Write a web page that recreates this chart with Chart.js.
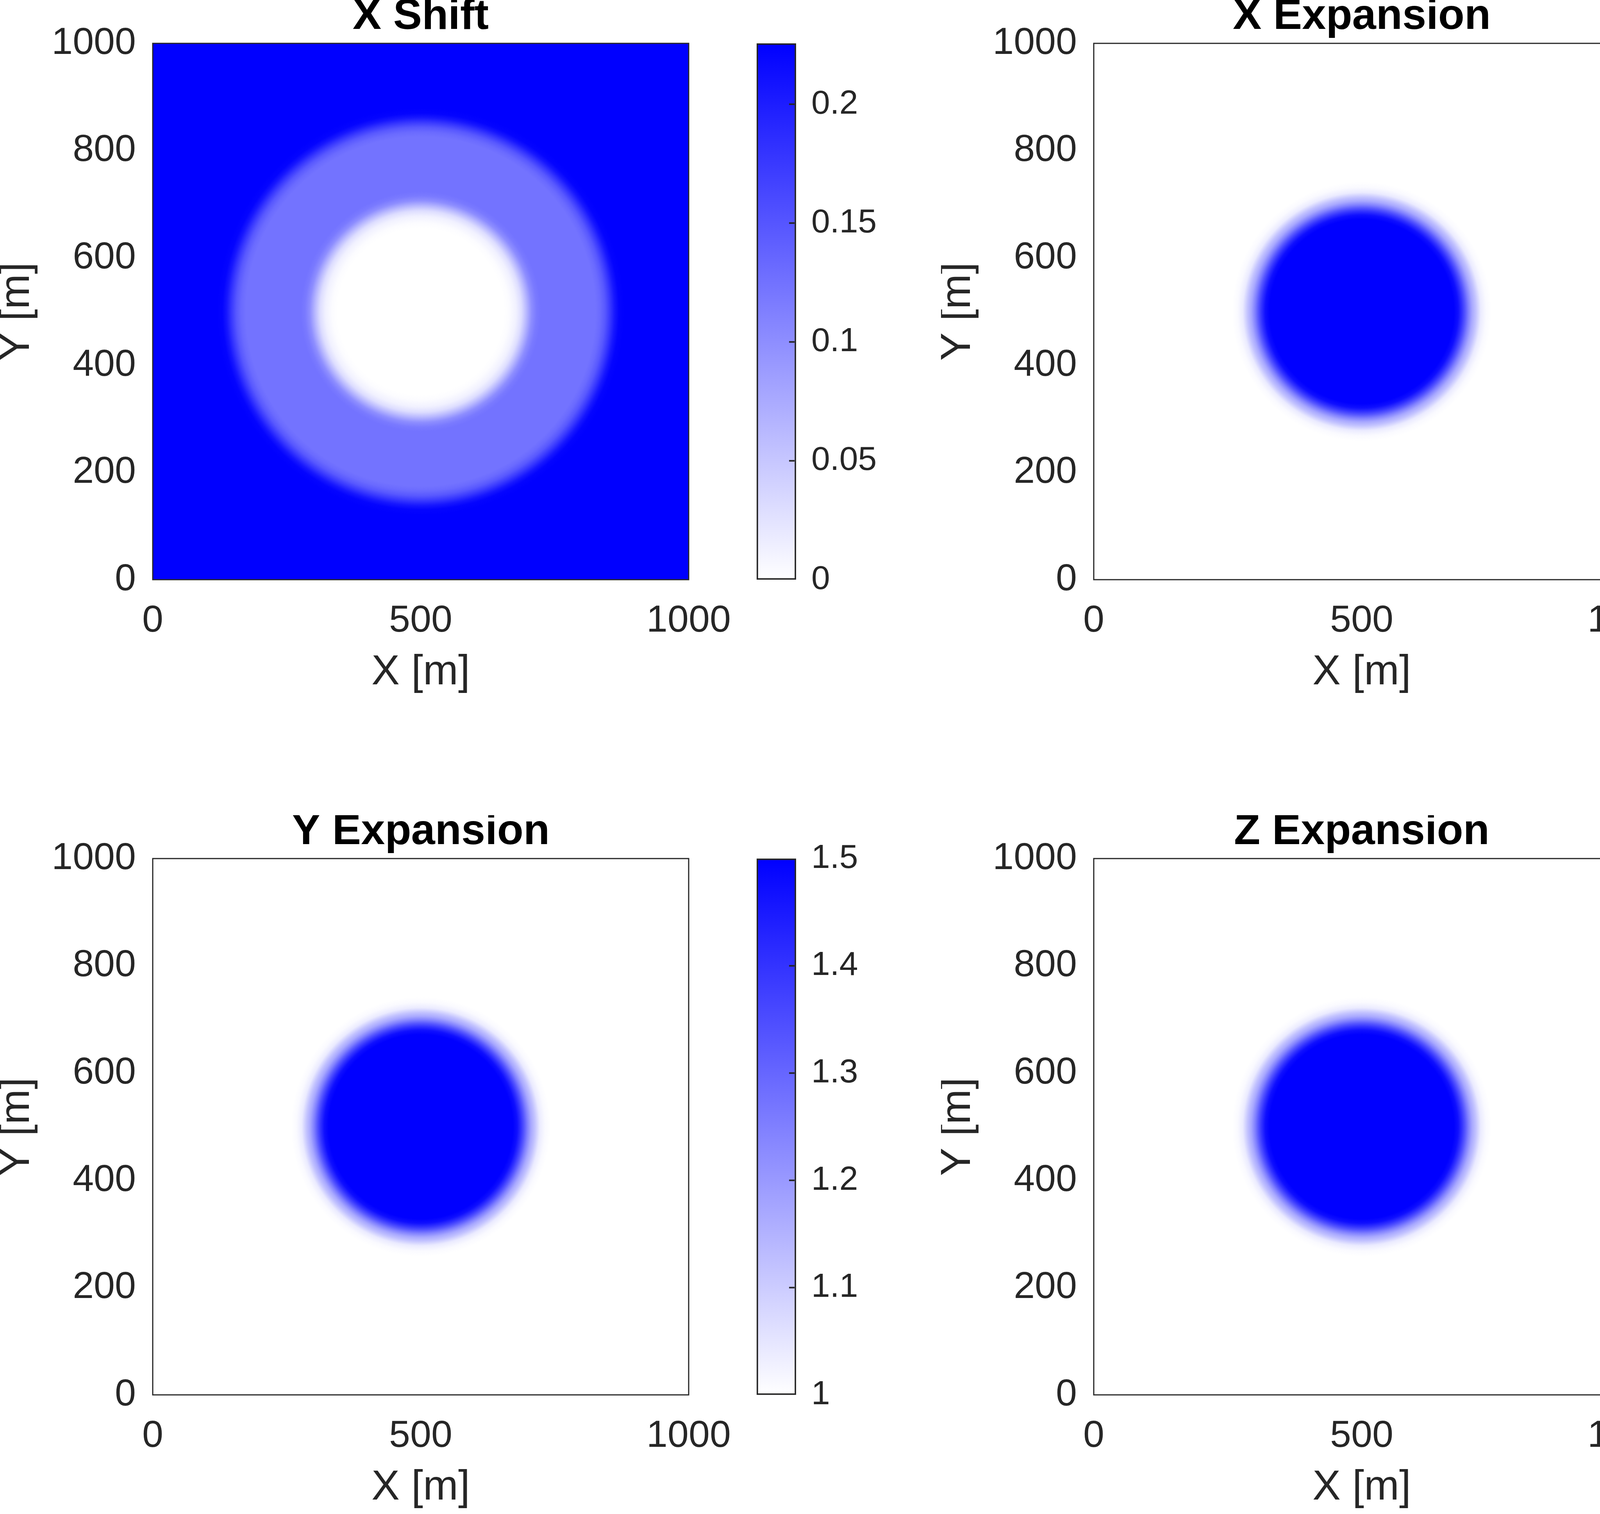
<!DOCTYPE html>
<html>
<head>
<meta charset="utf-8">
<script src="https://cdn.jsdelivr.net/npm/chart.js@4.4.1/dist/chart.umd.min.js"></script>
<style>
html, body { margin: 0; padding: 0; background: #fff; width: 4607px; height: 3876px; overflow: hidden; }
.box { position: absolute; }
</style>
</head>
<body>
<div class="box" style="left:0px;top:0px;width:1933px;height:1804px"><canvas id="shiftX"></canvas></div>
<div class="box" style="left:1937px;top:11px;width:321px;height:1573px"><canvas id="shiftXBar"></canvas></div>
<div class="box" style="left:2409px;top:0px;width:1933px;height:1804px"><canvas id="expX"></canvas></div>
<div class="box" style="left:4347px;top:11px;width:321px;height:1573px"><canvas id="expXBar"></canvas></div>
<div class="box" style="left:0px;top:2087px;width:1933px;height:1804px"><canvas id="expY"></canvas></div>
<div class="box" style="left:1937px;top:2098px;width:321px;height:1573px"><canvas id="expYBar"></canvas></div>
<div class="box" style="left:2409px;top:2087px;width:1933px;height:1804px"><canvas id="expZ"></canvas></div>
<div class="box" style="left:4347px;top:2098px;width:321px;height:1573px"><canvas id="expZBar"></canvas></div>
<script>
// axis ticks
const xTicks = [0, 500, 1000];
const yTicks = [0, 200, 400, 600, 800, 1000];
const centre = [500, 500];

// radial profiles (distance from centre in m -> value)
const shiftRadius = [0, 155, 165, 178, 188, 197, 207, 216, 224, 326, 335, 344, 353, 362, 370, 380];
const shiftValue = [0, 0, 0.003, 0.012, 0.03, 0.062, 0.1, 0.118, 0.124, 0.124, 0.132, 0.148, 0.175, 0.205, 0.222, 0.2256];

const expRadius = [0, 172, 180, 187, 193, 199, 206, 213, 222, 232, 242];
const expXValue = [1.5, 1.5, 1.47, 1.4, 1.33, 1.25, 1.17, 1.12, 1.04, 1.01, 1];
const expYValue = [1.5, 1.5, 1.47, 1.4, 1.33, 1.25, 1.17, 1.12, 1.04, 1.01, 1];
const expZValue = [1.5, 1.5, 1.47, 1.4, 1.33, 1.25, 1.17, 1.12, 1.04, 1.01, 1];

// colour limits and colorbar ticks
const shiftLimits = [0, 0.2256];
const shiftBarTicks = [0, 0.05, 0.1, 0.15, 0.2];
const expLimits = [1, 1.5];
const expBarTicks = [1, 1.1, 1.2, 1.3, 1.4, 1.5];

const FONT = "'Liberation Sans', Arial, sans-serif";
const INK = '#262626';
const REACH = 750; // field is painted out past the plot corners

function shade(v, lim) {
    const t = Math.min(1, Math.max(0, (v - lim[0]) / (lim[1] - lim[0])));
    const c = Math.round(255 * (1 - t));
    return 'rgb(' + c + ',' + c + ',255)';
}

// paints the radial field under the axes, positioned with the chart scales
const fieldPlugin = {
    id: 'field',
    beforeDatasetsDraw(chart, args, opts) {
        const a = chart.chartArea;
        const c = chart.ctx;
        const sx = chart.scales.x;
        const sy = chart.scales.y;
        const px = sx.getPixelForValue(centre[0]);
        const py = sy.getPixelForValue(centre[1]);
        const rr = sx.getPixelForValue(centre[0] + REACH) - px;
        const g = c.createRadialGradient(px, py, 0, px, py, rr);
        opts.radius.forEach((r, i) => g.addColorStop(r / REACH, shade(opts.value[i], opts.limits)));
        c.save();
        c.fillStyle = g;
        c.fillRect(a.left, a.top, a.right - a.left, a.bottom - a.top);
        c.restore();
    }
};

const framePlugin = {
    id: 'frame',
    afterDatasetsDraw(chart) {
        const a = chart.chartArea;
        const c = chart.ctx;
        c.save();
        c.strokeStyle = INK;
        c.lineWidth = 3;
        c.strokeRect(a.left, a.top, a.right - a.left, a.bottom - a.top);
        c.restore();
    }
};

const barTickPlugin = {
    id: 'barTicks',
    afterDatasetsDraw(chart) {
        const a = chart.chartArea;
        const s = chart.scales.y;
        const c = chart.ctx;
        c.save();
        c.strokeStyle = INK;
        c.lineWidth = 4;
        s.ticks.forEach((t) => {
            if (t.value <= s.min || t.value >= s.max) return;
            const py = s.getPixelForValue(t.value);
            c.beginPath();
            c.moveTo(a.right - 4, py);
            c.lineTo(a.right - 18, py);
            c.stroke();
        });
        c.restore();
    }
};

function drawField(id, title, radius, value, lim) {
    new Chart(document.getElementById(id), {
        type: 'scatter',
        data: {datasets: [{data: [], pointRadius: 0}]},
        options: {
            responsive: true,
            maintainAspectRatio: false,
            devicePixelRatio: 1,
            animation: false,
            events: [],
            layout: {padding: {right: 170}},
            plugins: {
                legend: {display: false},
                tooltip: {enabled: false},
                field: {radius: radius, value: value, limits: lim},
                title: {
                    display: true,
                    text: title,
                    fullSize: false,
                    color: '#000',
                    font: {family: FONT, size: 110, weight: 'bold', lineHeight: 0.8},
                    padding: {top: 0, bottom: 23}
                }
            },
            scales: {
                x: {
                    type: 'linear', min: 0, max: 1000,
                    grid: {display: false, drawTicks: false},
                    border: {display: false},
                    afterBuildTicks: (s) => { s.ticks = xTicks.map((v) => ({value: v})); },
                    afterFit: (s) => { s.height = 320; },
                    ticks: {color: INK, font: {family: FONT, size: 97}, padding: 48, maxRotation: 0, callback: (v) => String(v)},
                    title: {display: true, text: 'X [m]', color: INK, font: {family: FONT, size: 108, lineHeight: 1.2}, padding: {top: 0, bottom: 17}}
                },
                y: {
                    type: 'linear', min: 0, max: 1000,
                    grid: {display: false, drawTicks: false},
                    border: {display: false},
                    afterBuildTicks: (s) => { s.ticks = yTicks.map((v) => ({value: v})); },
                    afterFit: (s) => { s.width = 391; },
                    ticks: {color: INK, font: {family: FONT, size: 97}, padding: 43, callback: (v) => String(v)},
                    title: {display: true, text: 'Y [m]', color: INK, font: {family: FONT, size: 108, lineHeight: 0.8}, padding: {top: 1, bottom: 0}}
                }
            }
        },
        plugins: [fieldPlugin, framePlugin]
    });
}

function drawBar(id, lim, ticks) {
    new Chart(document.getElementById(id), {
        type: 'bar',
        data: {
            labels: [''],
            datasets: [{
                data: [[lim[0], lim[1]]],
                barPercentage: 1,
                categoryPercentage: 1,
                borderWidth: 4,
                borderColor: INK,
                borderSkipped: false,
                backgroundColor(ctx) {
                    const ch = ctx.chart;
                    const a = ch.chartArea;
                    if (!a) return 'transparent';
                    const g = ch.ctx.createLinearGradient(0, a.bottom, 0, a.top);
                    g.addColorStop(0, shade(lim[0], lim));
                    g.addColorStop(1, shade(lim[1], lim));
                    return g;
                }
            }]
        },
        options: {
            responsive: true,
            maintainAspectRatio: false,
            devicePixelRatio: 1,
            animation: false,
            events: [],
            layout: {padding: {top: 100, bottom: 100}},
            plugins: {legend: {display: false}, tooltip: {enabled: false}},
            scales: {
                x: {display: false},
                y: {
                    position: 'right', min: lim[0], max: lim[1],
                    grid: {display: false, drawTicks: false},
                    border: {display: false},
                    afterBuildTicks: (s) => { s.ticks = ticks.map((v) => ({value: v})); },
                    afterFit: (s) => { s.width = 220; },
                    ticks: {color: INK, font: {family: FONT, size: 86}, padding: 39, callback: (v) => String(v)}
                }
            }
        },
        plugins: [barTickPlugin]
    });
}

drawField('shiftX', 'X Shift', shiftRadius, shiftValue, shiftLimits);
drawBar('shiftXBar', shiftLimits, shiftBarTicks);
drawField('expX', 'X Expansion', expRadius, expXValue, expLimits);
drawBar('expXBar', expLimits, expBarTicks);
drawField('expY', 'Y Expansion', expRadius, expYValue, expLimits);
drawBar('expYBar', expLimits, expBarTicks);
drawField('expZ', 'Z Expansion', expRadius, expZValue, expLimits);
drawBar('expZBar', expLimits, expBarTicks);
</script>
</body>
</html>
